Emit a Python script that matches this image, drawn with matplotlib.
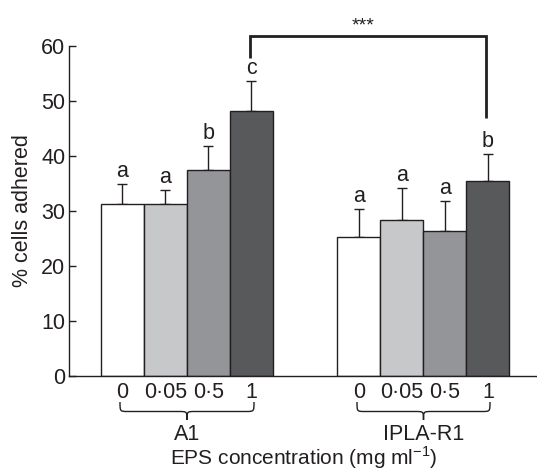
import matplotlib
matplotlib.use("Agg")
import matplotlib.pyplot as plt
from matplotlib.path import Path
from matplotlib.patches import PathPatch

plt.rcParams['font.family'] = ['Liberation Sans', 'DejaVu Sans']

# ---- data ----
groups = ["A1", "IPLA-R1"]
concentrations = ["0", "0\u00b705", "0\u00b75", "1"]
a1_means = [31.3, 31.3, 37.4, 48.1]
a1_errs = [3.6, 2.6, 4.5, 5.6]
ipla_means = [25.3, 28.3, 26.3, 35.5]
ipla_errs = [5.1, 5.9, 5.5, 4.9]
a1_letters = ["a", "a", "b", "c"]
ipla_letters = ["a", "a", "a", "b"]
bar_colors = ["#ffffff", "#c7c8ca", "#939598", "#58595b"]
edge = "#231f20"
FS = 15.5

W, H = 537, 470
fig = plt.figure(figsize=(W / 100, H / 100), dpi=100)
ax_l, ax_r = 69.3, 536
ax_b, ax_t = 376, 46
ax = fig.add_axes([ax_l / W, 1 - ax_b / H, (ax_r - ax_l) / W, (ax_b - ax_t) / H])

pos1 = [0, 1, 2, 3]
pos2 = [5.5, 6.5, 7.5, 8.5]
width = 1.0

for pos, means, errs, letters in [(pos1, a1_means, a1_errs, a1_letters),
                                   (pos2, ipla_means, ipla_errs, ipla_letters)]:
    ax.bar(pos, means, width=width, color=bar_colors, edgecolor=edge, linewidth=1.0, zorder=2)
    ax.errorbar(pos, means, yerr=[[0] * 4, errs], fmt='none', ecolor=edge,
                elinewidth=1.0, capsize=3.5, capthick=1.0, zorder=1)
    for x, m, e, lt in zip(pos, means, errs, letters):
        ax.annotate(lt, (x, m + e), xytext=(0, 5), textcoords='offset points',
                    ha='center', va='baseline', fontsize=FS, color=edge)

ax.set_ylim(0, 60)
ax.set_xlim((ax_l - 122.4) / 43, (ax_r - 122.4) / 43)
ax.set_yticks([0, 10, 20, 30, 40, 50, 60])
ax.tick_params(axis='y', direction='in', length=5, width=1, labelsize=FS,
               pad=3, colors=edge)
ax.set_xticks(pos1 + pos2, concentrations * 2)
ax.tick_params(axis='x', length=0, pad=4, labelsize=FS, colors=edge)
for s in ['top', 'right']:
    ax.spines[s].set_visible(False)
for s in ['left', 'bottom']:
    ax.spines[s].set_linewidth(1.0)
    ax.spines[s].set_color(edge)

ax.set_ylabel("% cells adhered", fontsize=FS, color=edge, labelpad=6)

# significance bracket
x1, x2 = pos1[3] - 0.03, pos2[3] - 0.04
ax.plot([x1, x1, x2, x2], [57.9, 61.9, 61.9, 47.0], color=edge, lw=2.0,
        clip_on=False, solid_capstyle='butt', solid_joinstyle='miter')
ax.text((x1 + x2) / 2 - 0.12, 63.6, "***", ha='center', va='center', fontsize=14, color=edge)

# curly braces under groups
px = 43.0  # pixels per data unit
ah = ax_b - ax_t
trans = ax.get_xaxis_transform()


def brace(xa, xb, ytop_px, ymid_px, ytip_px, r_px=8):
    xc = (xa + xb) / 2
    r = r_px / px
    yt = -(ytop_px - ax_b) / ah
    ym = -(ymid_px - ax_b) / ah
    yp = -(ytip_px - ax_b) / ah
    verts = [(xa, yt), (xa, ym), (xa, ym), (xa + r, ym),
             (xc - r, ym), (xc, ym), (xc, ym), (xc, yp),
             (xc, ym), (xc, ym), (xc + r, ym),
             (xb - r, ym), (xb, ym), (xb, ym), (xb, yt)]
    codes = [Path.MOVETO, Path.CURVE4, Path.CURVE4, Path.CURVE4,
             Path.LINETO, Path.CURVE4, Path.CURVE4, Path.CURVE4,
             Path.CURVE4, Path.CURVE4, Path.CURVE4,
             Path.LINETO, Path.CURVE4, Path.CURVE4, Path.CURVE4]
    p = PathPatch(Path(verts, codes), facecolor='none', edgecolor=edge, lw=1.0,
                  transform=trans, clip_on=False)
    ax.add_patch(p)


brace((120 - 122.4) / px, (254 - 122.4) / px, 402, 411.5, 420)
brace((357 - 122.4) / px, (490 - 122.4) / px, 402, 411.5, 420)

for g, pos in zip(groups, [pos1, pos2]):
    xc = (pos[0] + pos[3]) / 2
    ax.text(xc, -(434 - ax_b) / ah, g, transform=trans, ha='center', va='center',
            fontsize=FS, color=edge)

fig.text(304 / W, 1 - 457.5 / H, r"EPS concentration (mg ml$^{\mathregular{-1}}$)",
         ha='center', va='center', fontsize=15, color=edge)

fig.savefig("out.png", dpi=100)
